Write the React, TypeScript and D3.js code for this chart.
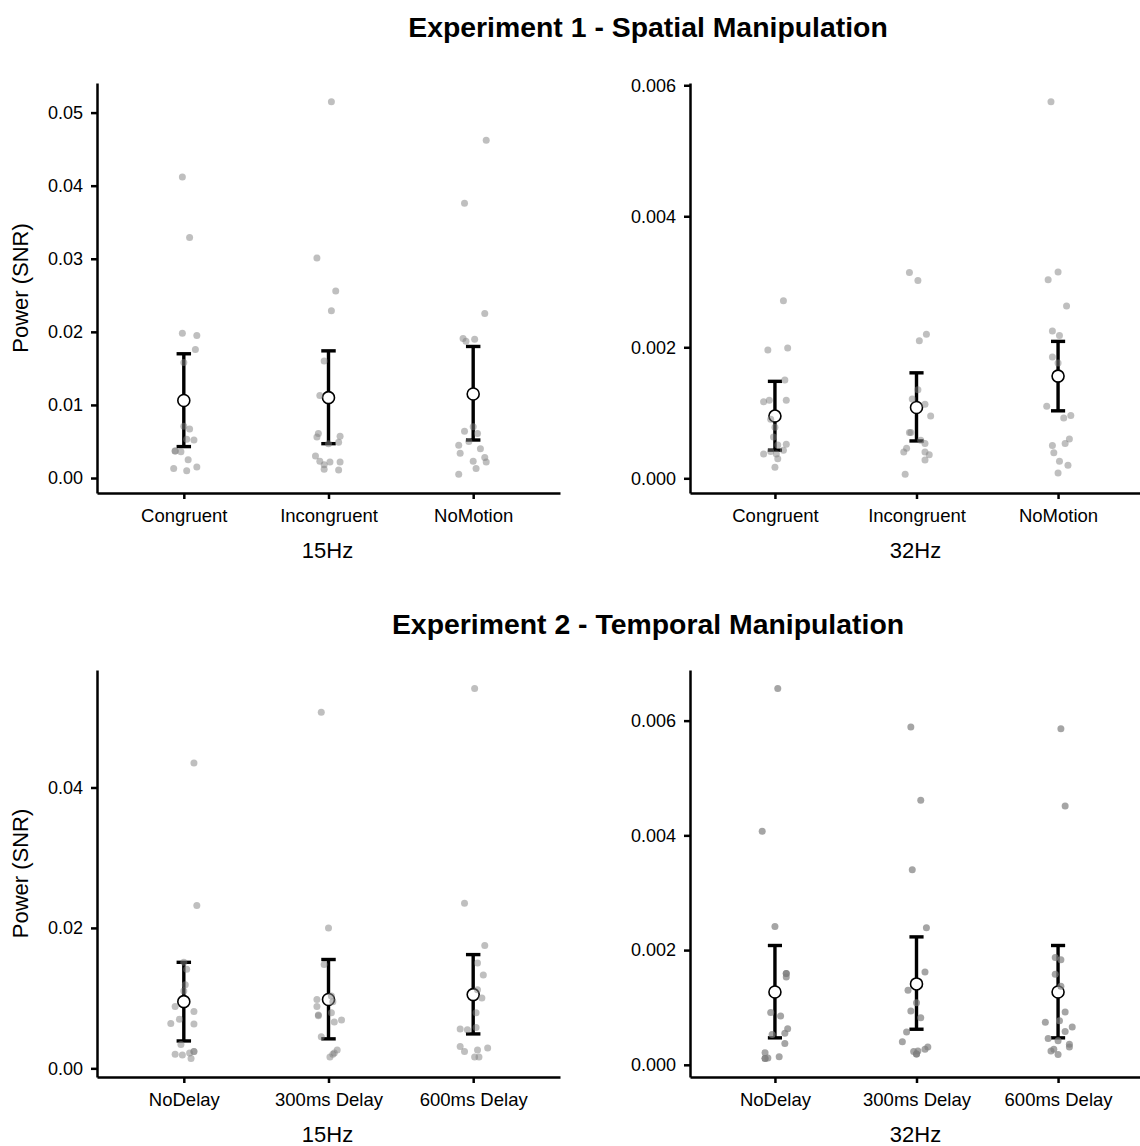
import React, { useEffect, useRef } from "react";
import * as d3 from "d3";

// --- Experiment 1 (spatial) ---
const exp1Categories = ["Congruent", "Incongruent", "NoMotion"];

const congruent15 = [0.0412, 0.0329, 0.0198, 0.0195, 0.0176, 0.0158, 0.0071, 0.0067, 0.0053, 0.0052, 0.0037, 0.0037, 0.0036, 0.0025, 0.0013, 0.001, 0.0015];
const congruent15Jitter = [-0.01, 0.04, -0.01, 0.09, 0.08, 0.0, 0.0, 0.04, 0.02, 0.07, -0.06, -0.06, -0.02, 0.03, -0.07, 0.02, 0.09];
const incongruent15 = [0.0515, 0.0301, 0.0256, 0.0229, 0.016, 0.0113, 0.0061, 0.0056, 0.0057, 0.0049, 0.0047, 0.003, 0.0023, 0.0018, 0.0022, 0.0022, 0.0012, 0.0011];
const incongruent15Jitter = [0.02, -0.08, 0.05, 0.02, -0.03, -0.06, -0.07, -0.08, 0.08, 0.07, 0.0, -0.09, -0.06, -0.03, 0.01, 0.08, -0.03, 0.07];
const noMotion15 = [0.0462, 0.0376, 0.0225, 0.0191, 0.0187, 0.019, 0.007, 0.0064, 0.0061, 0.005, 0.0045, 0.004, 0.0034, 0.0028, 0.0023, 0.0022, 0.0013, 0.0005];
const noMotion15Jitter = [0.09, -0.06, 0.08, -0.07, -0.05, 0.01, 0.0, -0.06, 0.03, -0.03, -0.1, 0.05, -0.09, 0.08, 0.0, 0.09, 0.02, -0.1];
const exp1Mean15 = [0.0106, 0.011, 0.0115];
const exp1Low15 = [0.0043, 0.0047, 0.0052];
const exp1High15 = [0.017, 0.0174, 0.018];
const ticks15a = [0, 0.01, 0.02, 0.03, 0.04, 0.05];

const congruent32 = [0.00271, 0.00196, 0.00199, 0.0015, 0.00117, 0.00119, 0.00119, 0.0009, 0.00078, 0.00063, 0.00051, 0.00052, 0.00043, 0.00041, 0.00037, 0.00037, 0.0003, 0.00017];
const congruent32Jitter = [0.06, -0.05, 0.09, 0.07, -0.08, -0.04, 0.08, -0.03, 0.0, -0.01, 0.02, 0.08, 0.06, -0.03, -0.08, 0.01, 0.02, 0.0];
const incongruent32 = [0.00314, 0.00302, 0.0022, 0.0021, 0.00135, 0.00121, 0.00113, 0.00095, 0.0007, 0.0007, 0.00058, 0.00053, 0.00046, 0.0004, 0.0004, 0.00036, 0.00028, 0.00006];
const incongruent32Jitter = [-0.05, 0.01, 0.07, 0.02, 0.01, -0.03, 0.06, 0.1, -0.05, -0.04, 0.03, 0.06, -0.07, -0.09, 0.06, 0.09, 0.06, -0.08];
const noMotion32 = [0.00575, 0.00315, 0.00303, 0.00263, 0.00225, 0.00218, 0.00185, 0.00176, 0.0011, 0.00092, 0.00096, 0.0006, 0.0005, 0.00053, 0.00039, 0.00026, 0.0002, 0.00008];
const noMotion32Jitter = [-0.05, 0.0, -0.07, 0.06, -0.04, 0.01, -0.04, 0.0, -0.08, 0.04, 0.09, 0.08, -0.04, 0.05, -0.03, 0.01, 0.07, 0.0];
const exp1Mean32 = [0.00095, 0.00108, 0.00156];
const exp1Low32 = [0.00043, 0.00057, 0.00103];
const exp1High32 = [0.00148, 0.00161, 0.00209];
const ticks32a = [0, 0.002, 0.004, 0.006];

// --- Experiment 2 (temporal) ---
const exp2Categories = ["NoDelay", "300ms Delay", "600ms Delay"];

const noDelay15 = [0.0435, 0.0232, 0.0151, 0.0141, 0.0119, 0.011, 0.0088, 0.0081, 0.007, 0.0064, 0.0063, 0.0034, 0.002, 0.0019, 0.0022, 0.0024, 0.0024, 0.0014];
const noDelay15Jitter = [0.07, 0.09, 0.0, 0.02, 0.01, 0.0, -0.06, 0.07, -0.03, -0.09, 0.07, -0.02, -0.06, -0.01, 0.04, 0.07, 0.07, 0.05];
const delay300_15 = [0.0507, 0.02, 0.0148, 0.0098, 0.0095, 0.0088, 0.0103, 0.0076, 0.0075, 0.0079, 0.0069, 0.0066, 0.0045, 0.0026, 0.0022, 0.002, 0.0016];
const delay300_15Jitter = [-0.05, 0.0, -0.03, -0.08, 0.03, -0.08, 0.02, -0.07, -0.07, 0.02, 0.09, 0.04, -0.05, 0.06, 0.04, 0.03, 0.01];
const delay600_15 = [0.0541, 0.0235, 0.0175, 0.015, 0.0133, 0.0112, 0.01, 0.0079, 0.0056, 0.0055, 0.0058, 0.0031, 0.0024, 0.0026, 0.0029, 0.0016, 0.0016];
const delay600_15Jitter = [0.01, -0.06, 0.08, 0.03, 0.07, 0.03, 0.06, 0.02, -0.09, -0.04, 0.02, -0.09, -0.06, 0.03, 0.1, 0.01, 0.04];
const exp2Mean15 = [0.0095, 0.0098, 0.0105];
const exp2Low15 = [0.0039, 0.0042, 0.0049];
const exp2High15 = [0.0151, 0.0155, 0.0162];
const ticks15b = [0, 0.02, 0.04];

const noDelay32 = [0.00656, 0.00407, 0.00241, 0.00159, 0.00159, 0.00153, 0.00091, 0.00085, 0.00063, 0.00055, 0.00053, 0.00037, 0.00021, 0.00011, 0.00011, 0.00012, 0.00014];
const noDelay32Jitter = [0.02, -0.09, 0.0, 0.08, 0.08, 0.08, -0.03, 0.04, 0.09, 0.07, -0.02, 0.07, -0.07, -0.07, -0.07, -0.05, 0.03];
const delay300_32 = [0.00589, 0.00461, 0.0034, 0.00239, 0.00162, 0.0013, 0.00108, 0.00094, 0.00082, 0.00057, 0.0004, 0.00031, 0.00027, 0.00024, 0.00023, 0.00019, 0.00019];
const delay300_32Jitter = [-0.04, 0.03, -0.03, 0.07, 0.06, -0.06, 0.0, -0.04, 0.03, -0.07, -0.1, 0.08, 0.06, 0.01, -0.02, 0.0, 0.0];
const delay600_32 = [0.00586, 0.00451, 0.00187, 0.00183, 0.00158, 0.00137, 0.00092, 0.00074, 0.00077, 0.00066, 0.00058, 0.00046, 0.00042, 0.00036, 0.00031, 0.00027, 0.00024, 0.00018];
const delay600_32Jitter = [0.02, 0.05, -0.02, 0.02, -0.02, 0.02, 0.05, -0.09, 0.01, 0.1, 0.05, -0.07, 0.0, 0.08, 0.08, -0.03, -0.05, 0.0];
const exp2Mean32 = [0.00127, 0.00141, 0.00127];
const exp2Low32 = [0.00047, 0.00062, 0.00047];
const exp2High32 = [0.00208, 0.00223, 0.00208];
const ticks32b = [0, 0.002, 0.004, 0.006];

const FONT = "'Liberation Sans', Arial, Helvetica, sans-serif";

const panels = [
  {
    x0: 97, x1: 560, y0: 83, y1: 493, yTitle: "Power (SNR)", xTitle: "15Hz",
    categories: exp1Categories, groups: [congruent15, incongruent15, noMotion15],
    jitter: [congruent15Jitter, incongruent15Jitter, noMotion15Jitter],
    mean: exp1Mean15, low: exp1Low15, high: exp1High15, ticks: ticks15a, fmt: ".2f", alpha: 0.5,
  },
  {
    x0: 690, x1: 1143, y0: 83, y1: 493, yTitle: null, xTitle: "32Hz",
    categories: exp1Categories, groups: [congruent32, incongruent32, noMotion32],
    jitter: [congruent32Jitter, incongruent32Jitter, noMotion32Jitter],
    mean: exp1Mean32, low: exp1Low32, high: exp1High32, ticks: ticks32a, fmt: ".3f", alpha: 0.5,
  },
  {
    x0: 97, x1: 560, y0: 670, y1: 1077, yTitle: "Power (SNR)", xTitle: "15Hz",
    categories: exp2Categories, groups: [noDelay15, delay300_15, delay600_15],
    jitter: [noDelay15Jitter, delay300_15Jitter, delay600_15Jitter],
    mean: exp2Mean15, low: exp2Low15, high: exp2High15, ticks: ticks15b, fmt: ".2f", alpha: 0.5,
  },
  {
    x0: 690, x1: 1143, y0: 670, y1: 1077, yTitle: null, xTitle: "32Hz",
    categories: exp2Categories, groups: [noDelay32, delay300_32, delay600_32],
    jitter: [noDelay32Jitter, delay300_32Jitter, delay600_32Jitter],
    mean: exp2Mean32, low: exp2Low32, high: exp2High32, ticks: ticks32b, fmt: ".3f", alpha: 0.7,
  },
];

const App = () => {
  const svgRef = useRef<SVGSVGElement>(null);

  useEffect(() => {
    const svg = d3.select(svgRef.current);
    svg.selectAll("*").remove();

    // Section titles
    svg.append("text").attr("x", 648).attr("y", 37).attr("text-anchor", "middle")
      .style("font-family", FONT).style("font-size", "28.4px").style("font-weight", "bold")
      .text("Experiment 1 - Spatial Manipulation");
    svg.append("text").attr("x", 648).attr("y", 634).attr("text-anchor", "middle")
      .style("font-family", FONT).style("font-size", "28.4px").style("font-weight", "bold")
      .text("Experiment 2 - Temporal Manipulation");

    panels.forEach((p) => {
      const g = svg.append("g");
      const allVals = p.groups.flat().concat(p.low, p.high);
      const [mn, mx] = d3.extent(allVals) as [number, number];
      const pad = (mx - mn) * 0.05;

      // discrete x axis with ggplot-like 0.6 expansion
      const xScale = d3.scaleLinear().domain([0.4, 3.6]).range([p.x0, p.x1]);
      const yScale = d3.scaleLinear().domain([mn - pad, mx + pad]).range([p.y1, p.y0]);

      // Error bars
      p.mean.forEach((m, i) => {
        const cx = xScale(i + 1);
        g.append("line").attr("x1", cx).attr("x2", cx)
          .attr("y1", yScale(p.low[i])).attr("y2", yScale(p.high[i]))
          .attr("stroke", "#000").attr("stroke-width", 3.4);
        [p.low[i], p.high[i]].forEach((v) => {
          g.append("line").attr("x1", xScale(i + 1 - 0.05)).attr("x2", xScale(i + 1 + 0.05))
            .attr("y1", yScale(v)).attr("y2", yScale(v))
            .attr("stroke", "#000").attr("stroke-width", 3.4);
        });
        g.append("circle").attr("cx", cx).attr("cy", yScale(m)).attr("r", 6)
          .attr("fill", "#fff").attr("stroke", "#000").attr("stroke-width", 1.6);
      });

      // Jittered individual points
      p.groups.forEach((vals, i) => {
        g.selectAll(null)
          .data(vals)
          .enter()
          .append("circle")
          .attr("cx", (d, j) => xScale(i + 1 + p.jitter[i][j]))
          .attr("cy", (d) => yScale(d))
          .attr("r", 3.5)
          .attr("fill", "#7f7f7f")
          .attr("fill-opacity", p.alpha);
      });

      // Y axis
      const yAxis = g.append("g")
        .attr("transform", `translate(${p.x0},0)`)
        .call(d3.axisLeft(yScale).tickValues(p.ticks).tickFormat(d3.format(p.fmt)).tickSize(6).tickPadding(8).tickSizeOuter(0));
      yAxis.select(".domain").attr("stroke-width", 2.5);
      yAxis.selectAll(".tick line").attr("stroke-width", 2.5);
      yAxis.selectAll("text").style("font-family", FONT).style("font-size", "18px").attr("fill", "#000");

      // X axis
      const xAxis = g.append("g")
        .attr("transform", `translate(0,${p.y1})`)
        .call(d3.axisBottom(xScale).tickValues([1, 2, 3]).tickFormat((d: any) => p.categories[d - 1]).tickSize(6).tickPadding(10).tickSizeOuter(0));
      xAxis.select(".domain").attr("stroke-width", 2.5);
      xAxis.selectAll(".tick line").attr("stroke-width", 2.5);
      xAxis.selectAll("text").style("font-family", FONT).style("font-size", "18.5px").attr("fill", "#000");

      // Axis titles
      g.append("text")
        .attr("x", (p.x0 + p.x1) / 2 - 1).attr("y", p.y1 + 65)
        .attr("text-anchor", "middle")
        .style("font-family", FONT).style("font-size", "22px")
        .text(p.xTitle);

      if (p.yTitle) {
        g.append("text")
          .attr("transform", "rotate(-90)")
          .attr("x", -(p.y0 + p.y1) / 2).attr("y", 28)
          .attr("text-anchor", "middle")
          .style("font-family", FONT).style("font-size", "22px")
          .text(p.yTitle);
      }
    });
  }, []);

  return (
    <svg
      ref={svgRef}
      width={1140}
      height={1146}
      style={{ position: "absolute", left: 0, top: 0, background: "#fff" }}
    ></svg>
  );
};

export default App;
